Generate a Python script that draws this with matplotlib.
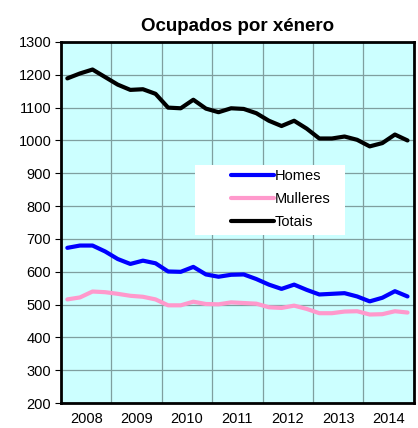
import matplotlib
matplotlib.use('Agg')
import matplotlib.pyplot as plt
from matplotlib.patches import Rectangle
import numpy as np

plt.rcParams['font.family'] = ['Liberation Sans', 'DejaVu Sans']

# quarterly values, 2008 Q1 .. 2014 Q4
years = ['2008', '2009', '2010', '2011', '2012', '2013', '2014']
homes = [673, 680, 680, 662, 639, 624, 634, 626,
         601, 600, 615, 592, 585, 591, 592, 578,
         561, 548, 561, 545, 531, 533, 535, 525,
         510, 521, 541, 525]
mulleres = [516, 522, 540, 538, 533, 527, 524, 516,
            498, 498, 509, 502, 501, 507, 505, 503,
            492, 490, 497, 487, 474, 474, 479, 480,
            470, 471, 480, 476]
totais = [1189, 1204, 1216, 1193, 1170, 1154, 1156, 1142,
          1100, 1098, 1124, 1097, 1086, 1098, 1096, 1083,
          1060, 1044, 1060, 1036, 1006, 1006, 1012, 1002,
          982, 992, 1018, 1000]

x = np.arange(len(totais))

fig = plt.figure(figsize=(4.18, 4.28), dpi=100)
ax = fig.add_axes([0.146, 0.058, 0.844, 0.844])
ax.set_facecolor('#CCFFFF')

ax.plot(x, homes, color='#0000FF', lw=3, label='Homes', solid_capstyle='round')
ax.plot(x, mulleres, color='#FF99CC', lw=3, label='Mulleres', solid_capstyle='round')
ax.plot(x, totais, color='black', lw=3, label='Totais', solid_capstyle='round')

ax.set_xlim(-0.5, len(totais) - 0.5)
ax.set_ylim(200, 1300)
ax.set_yticks(range(200, 1301, 100))
ax.set_xticks([4 * i + 1.5 for i in range(len(years))])
ax.set_xticklabels(years)
ax.set_xticks([4 * i + 3.5 for i in range(len(years) - 1)], minor=True)
ax.tick_params(axis='x', which='both', length=0, labelsize=10.5, pad=6)
ax.tick_params(axis='y', length=4, labelsize=10.5, pad=3)
ax.grid(True, which='minor', axis='x', color='#7F9F9F', lw=0.9)
ax.grid(True, which='major', axis='y', color='#7F9F9F', lw=0.9)
for s in ax.spines.values():
    s.set_linewidth(2)

ax.set_title('Ocupados por xénero', fontsize=13.5, fontweight='bold', pad=8)

# white legend box
ax.add_patch(Rectangle((0.38, 0.465), 0.425, 0.194, transform=ax.transAxes,
                       facecolor='white', edgecolor='none', zorder=4))
leg = ax.legend(loc='center left', bbox_to_anchor=(0.462, 0.565), frameon=False,
                fontsize=10.5, handlelength=2.9, borderpad=0,
                labelspacing=0.6, handletextpad=0.1)
leg.set_zorder(5)

fig.savefig('out.png', dpi=100)
